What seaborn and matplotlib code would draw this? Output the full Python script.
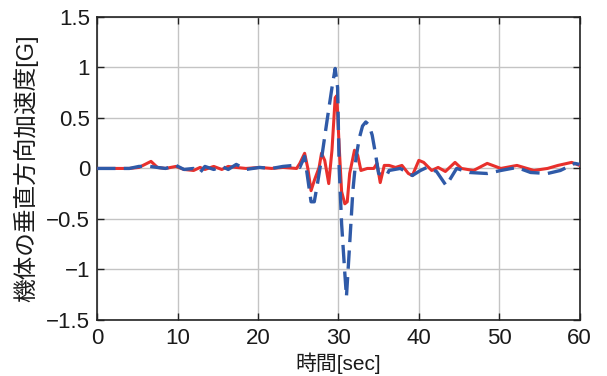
import numpy as np
import pandas as pd
import matplotlib
matplotlib.use("Agg")
import matplotlib.pyplot as plt
import seaborn as sns

# Blue dashed trace (time [s], vertical acceleration [G])
blue_t = [0, 2, 4, 5.2, 6.6, 7.5, 8.5, 9.8, 10.8, 12.0, 12.8, 13.4, 14.5, 15.5, 16.3,
          17.3, 18.5, 20.2, 21.7, 23.1, 24.4, 25.2, 25.8, 26.6, 27.0, 27.4, 28.0,
          28.6, 29.2, 29.6, 29.9, 30.1, 30.4, 30.8, 31.0, 31.3, 31.8, 32.2, 32.6,
          33.0, 33.4, 33.8, 34.2, 34.6, 35.0, 35.7, 36.0, 36.3, 37.7, 39.2, 40.2,
          41.0, 42.2, 43.4, 44.7, 46.3, 48.5, 50.2, 52.2, 53.9, 56.0, 57.6, 59.4, 60.0]
blue_v = [0.0, 0.0, 0.0, 0.02, 0.02, 0.01, 0.0, 0.03, -0.01, 0.0, -0.04, 0.02, -0.01,
          0.02, -0.01, 0.04, -0.01, 0.01, 0.0, 0.02, 0.03, 0.01, 0.12, -0.33, -0.33,
          -0.15, 0.15, 0.48, 0.8, 0.99, 0.8, 0.0, -0.55, -1.04, -1.27, -0.88, -0.22,
          0.11, 0.3, 0.42, 0.46, 0.43, 0.33, 0.15, -0.05, -0.07, -0.07, -0.02, 0.0,
          -0.07, -0.02, 0.01, -0.03, -0.17, 0.0, -0.04, -0.05, -0.02, 0.01, -0.04,
          -0.05, -0.02, 0.05, 0.04]

# Red solid trace
red_t = [0, 2, 4, 5.2, 6.7, 7.5, 8.5, 9.8, 10.8, 12.0, 12.8, 13.4, 14.5, 15.5, 16.3,
         17.3, 18.5, 20.2, 21.7, 23.1, 24.8, 25.2, 25.8, 26.2, 26.6, 27.0, 27.6,
         27.9, 28.3, 28.8, 29.2, 29.6, 29.8, 30.1, 30.4, 30.8, 31.1, 31.4, 32.0,
         32.4, 32.8, 33.6, 34.4, 34.8, 35.2, 35.7, 36.3, 37.1, 37.9, 38.7, 39.2,
         40.0, 40.6, 41.6, 42.4, 43.3, 44.5, 45.3, 46.8, 48.5, 50.2, 52.2, 54.3,
         56.0, 57.3, 59.0, 60.0]
red_v = [0.0, 0.0, 0.0, 0.01, 0.07, 0.01, 0.0, 0.02, -0.01, -0.02, 0.01, -0.01, 0.02,
         -0.01, 0.02, 0.01, 0.0, 0.01, 0.0, 0.01, 0.0, 0.05, 0.15, 0.0, -0.22, -0.12,
         0.01, 0.15, 0.08, -0.15, 0.18, 0.7, 0.72, 0.21, -0.23, -0.35, -0.33, -0.05,
         0.18, 0.13, -0.02, 0.0, 0.0, 0.05, -0.14, 0.03, 0.03, 0.01, 0.03, -0.05,
         -0.07, 0.08, 0.06, -0.02, 0.01, -0.03, 0.06, 0.0, -0.02, 0.05, 0.0, 0.03,
         -0.02, 0.0, 0.03, 0.06, 0.03]

x_ticks = [0, 10, 20, 30, 40, 50, 60]
y_ticks = [-1.5, -1, -0.5, 0, 0.5, 1, 1.5]
y_tick_labels = ["\u22121.5", "\u22121", "\u22120.5", "0", "0.5", "1", "1.5"]

sns.set_style("ticks")
plt.rcParams["font.family"] = ["Liberation Sans", "Noto Sans CJK JP", "DejaVu Sans"]

blue_df = pd.DataFrame({"t": blue_t, "v": blue_v})
red_df = pd.DataFrame({"t": red_t, "v": red_v})

fig = plt.figure(figsize=(6.07, 3.76), dpi=100)
ax = fig.add_axes([0.160, 0.149, 0.795, 0.806])

sns.lineplot(data=red_df, x="t", y="v", ax=ax, color="#e8302c", linewidth=2.2,
             sort=False, estimator=None, zorder=3)
sns.lineplot(data=blue_df, x="t", y="v", ax=ax, color="#2f5aa8", linewidth=2.4,
             sort=False, estimator=None, zorder=4)
ax.lines[-1].set_dashes((5.5, 2.5))

ax.set_xlim(0, 60)
ax.set_ylim(-1.5, 1.5)
ax.set_xticks(x_ticks)
ax.set_yticks(y_ticks)
ax.set_yticklabels(y_tick_labels)
ax.grid(True, color="#c4c4c4", linewidth=1.0)
ax.set_axisbelow(True)
ax.tick_params(direction="in", length=5, labelsize=16, top=True, right=True,
               labelcolor="#1a1a1a", color="#222222", width=1.0)
ax.tick_params(axis="x", pad=6)
ax.tick_params(axis="y", pad=5)
for s in ax.spines.values():
    s.set_color("#222222")
    s.set_linewidth(1.2)

ax.set_xlabel("時間[sec]", fontsize=15, labelpad=2, color="#1a1a1a",
              family=["Liberation Sans", "Noto Sans CJK JP", "DejaVu Sans"])
ax.set_ylabel("機体の垂直方向加速度[G]", fontsize=17, labelpad=6, color="#1a1a1a",
              family=["Liberation Sans", "Noto Sans CJK JP", "DejaVu Sans"])

fig.savefig("out.png", dpi=100, facecolor="white")
